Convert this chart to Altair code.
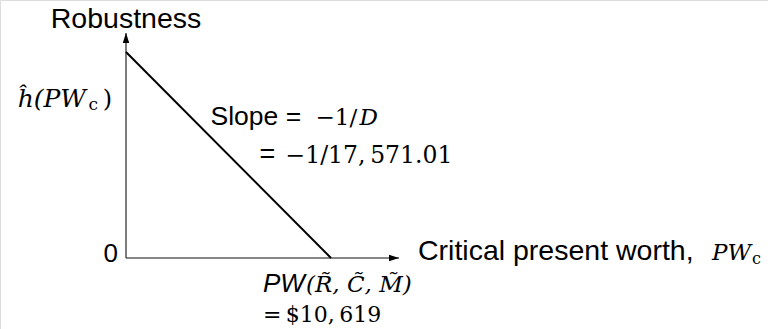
import altair as alt
import pandas as pd

# Values shown on the chart
pw_value = 10619              # PW(R~, C~, M~) in dollars
slope_denominator = 17571.01  # D, so the slope is -1/D
h_hat = pw_value / slope_denominator  # robustness where the line meets the vertical axis

# Extent of the two drawn axes (data units)
x_axis_end = 14141
y_axis_end = 0.6601

SANS = "Liberation Sans"
SERIF = "DejaVu Serif"

line_df = pd.DataFrame({"pw": [0, pw_value], "h": [h_hat, 0]})
x_axis_df = pd.DataFrame({"pw": [0], "pw2": [x_axis_end], "h": [0]})
y_axis_df = pd.DataFrame({"pw": [0], "h": [0], "h2": [y_axis_end]})

x_scale = alt.Scale(domain=[0, x_axis_end], range=[126, 399], nice=False, zero=False)
y_scale = alt.Scale(domain=[0, y_axis_end], range=[258, 33], nice=False, zero=False)

X = alt.X("pw:Q", scale=x_scale, axis=None)
Y = alt.Y("h:Q", scale=y_scale, axis=None)

x_axis = alt.Chart(x_axis_df).mark_rule(color="#111", strokeWidth=1.1).encode(
    x=X, x2="pw2:Q", y=Y
)
y_axis = alt.Chart(y_axis_df).mark_rule(color="#111", strokeWidth=1.1).encode(
    x=X, y=Y, y2="h2:Q"
)

arrow_up = "M0,0 L-0.65,2 L0.65,2 Z"
arrow_right = "M0,0 L-2,-0.65 L-2,0.65 Z"
x_tip = alt.Chart(pd.DataFrame({"pw": [x_axis_end], "h": [0]})).mark_point(
    shape=arrow_right, filled=True, color="#000", size=100, opacity=1
).encode(x=X, y=Y)
y_tip = alt.Chart(pd.DataFrame({"pw": [0], "h": [y_axis_end]})).mark_point(
    shape=arrow_up, filled=True, color="#000", size=100, opacity=1
).encode(x=X, y=Y)

robustness_line = alt.Chart(line_df).mark_line(color="#000", strokeWidth=2).encode(
    x=X, y=Y
)


def label(text, pw, h, font, size, style="normal", align="left", dx=0, dy=0):
    return alt.Chart(pd.DataFrame({"pw": [pw], "h": [h], "t": [text]})).mark_text(
        font=font, fontSize=size, fontStyle=style, align=align,
        baseline="alphabetic", dx=dx, dy=dy, color="#000"
    ).encode(x=X, y=Y, text="t:N")


mid_pw, mid_h = pw_value / 2, h_hat / 2

texts = [
    label("Robustness", 0, y_axis_end, SANS, 28.5, align="center", dy=-5),
    label("0", 0, 0, SANS, 26, align="right", dx=-8, dy=4),
    # h-hat(PW_c) beside the vertical axis
    label(")", 0, h_hat, SERIF, 24, align="right", dx=-14, dy=55),
    label("c", 0, h_hat, SERIF, 17, align="right", dx=-28, dy=58),
    label("\u0125(PW", 0, h_hat, SERIF, 25, style="italic", align="right", dx=-40, dy=55),
    # slope annotation
    label("Slope =", mid_pw, mid_h, SANS, 26.5, dx=-18, dy=-30),
    label("\u22121/", mid_pw, mid_h, SERIF, 23, dx=87, dy=-30),
    label("D", mid_pw, mid_h, SERIF, 23, style="italic", dx=131, dy=-30),
    label("=", mid_pw, mid_h, SANS, 27, dx=31, dy=8),
    label("\u22121/17,\u2009571.01", mid_pw, mid_h, SERIF, 23.5, dx=57, dy=8),
    # PW value under the horizontal axis
    label("PW", pw_value, 0, SANS, 26, style="italic", dx=-68, dy=34),
    label("(R\u0303, C\u0303, M\u0303)", pw_value, 0, SERIF, 23, style="italic", dx=-25, dy=34),
    label("=\u2009$10,\u2009619", pw_value, 0, SERIF, 22, dx=-68, dy=64),
    # horizontal axis title
    label("Critical present worth,", x_axis_end, 0, SANS, 28.5, dx=19, dy=2),
    label("PW", x_axis_end, 0, SERIF, 23, style="italic", dx=313, dy=2),
    label("c", x_axis_end, 0, SERIF, 16, dx=353, dy=6),
]

chart = alt.layer(
    x_axis, y_axis, x_tip, y_tip, robustness_line, *texts
).properties(
    width=768, height=329, padding=0, autosize=alt.AutoSizeParams(type="none")
).configure_view(stroke=None).configure(background="white")

chart.save("out.html", embed_options={"renderer": "svg", "actions": False})
